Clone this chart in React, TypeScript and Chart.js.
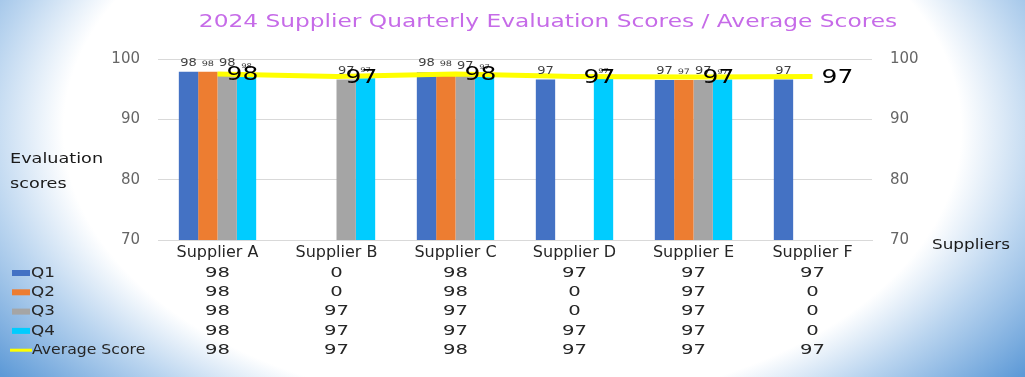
import React, { useEffect, useRef } from 'react';
import { Chart, registerables } from 'chart.js';

Chart.register(...registerables);

// ---------- data ----------
const categories = ['Supplier A', 'Supplier B', 'Supplier C', 'Supplier D', 'Supplier E', 'Supplier F'];
const seriesNames = ['Q1', 'Q2', 'Q3', 'Q4'];
const q1 = [97.9, 0, 97.8, 96.6, 96.5, 96.6];
const q2 = [97.9, 0, 97.8, 0, 96.5, 0];
const q3 = [97.8, 96.6, 97.4, 0, 96.5, 0];
const q4 = [97.5, 96.8, 97.3, 96.7, 96.6, 0];
const avgName = 'Average Score';
const avgScores = [97.5, 97.1, 97.5, 97.1, 97.0, 97.1];
const yTicks = [70, 80, 90, 100];
const titleText = '2024 Supplier Quarterly Evaluation Scores / Average Scores';
const yTitleLines = ['Evaluation', 'scores'];
const xTitleText = 'Suppliers';

// ---------- styles ----------
const COLORS = ['#4472C4', '#ED7D31', '#A5A5A5', '#00CCFF'];
const LINE_COLOR = '#FFFF00';
const FONT = '"DejaVu Sans", sans-serif';
const BAR_LABEL_SIZES = [10, 7.5, 10, 6.5];

function drawText(
  ctx: CanvasRenderingContext2D,
  text: string,
  x: number,
  y: number,
  size: number,
  color: string,
  align: 'left' | 'center' | 'right',
  sx: number,
  baseline: CanvasTextBaseline = 'middle'
) {
  ctx.save();
  ctx.font = `${size}px ${FONT}`;
  ctx.fillStyle = color;
  ctx.textBaseline = baseline;
  ctx.textAlign = 'left';
  const w = ctx.measureText(text).width * sx;
  const left = align === 'left' ? x : align === 'center' ? x - w / 2 : x - w;
  ctx.translate(left, y);
  ctx.scale(sx, 1);
  ctx.fillText(text, 0, 0);
  ctx.restore();
}

const bgPlugin = {
  id: 'bgGradient',
  beforeDraw(chart: any) {
    const { ctx, width, height } = chart;
    const cx = width / 2;
    const cy = 130;
    const rx = 680;
    const ry = 420;
    ctx.save();
    ctx.translate(cx, cy);
    ctx.scale(1, ry / rx);
    const g = ctx.createRadialGradient(0, 0, 0, 0, 0, rx);
    g.addColorStop(0, '#ffffff');
    g.addColorStop(0.66, '#ffffff');
    g.addColorStop(0.78, '#b9d4ef');
    g.addColorStop(0.95, '#5e9ad7');
    g.addColorStop(1, '#5794d4');
    ctx.fillStyle = g;
    ctx.fillRect(-cx, (-cy * rx) / ry, width, (height * rx) / ry);
    ctx.restore();
  },
};

const overlayPlugin = {
  id: 'overlay',
  afterDatasetsDraw(chart: any) {
    const ctx: CanvasRenderingContext2D = chart.ctx;
    // bar value labels
    for (let i = 0; i < seriesNames.length; i++) {
      const meta = chart.getDatasetMeta(i);
      const values = [q1, q2, q3, q4][i];
      meta.data.forEach((el: any, j: number) => {
        const v = values[j];
        if (!v) return;
        drawText(ctx, String(Math.round(v)), el.x, el.y - 6, BAR_LABEL_SIZES[i], '#404040', 'center', 1.3, 'alphabetic');
      });
    }
    // average labels
    const lineMeta = chart.getDatasetMeta(seriesNames.length);
    lineMeta.data.forEach((el: any, j: number) => {
      drawText(ctx, String(Math.round(avgScores[j])), el.x + 9, el.y + 1, 20, '#000000', 'left', 1.25);
    });
  },
  afterDraw(chart: any) {
    const ctx: CanvasRenderingContext2D = chart.ctx;
    const xScale = chart.scales.x;
    // title
    drawText(ctx, titleText, 548, 23, 17, '#c66be8', 'center', 1.37);
    // axis titles
    drawText(ctx, yTitleLines[0], 10, 159, 14, '#1a1a1a', 'left', 1.26);
    drawText(ctx, yTitleLines[1], 10, 184, 14, '#1a1a1a', 'left', 1.26);
    drawText(ctx, xTitleText, 932, 245, 14, '#1a1a1a', 'left', 1.2);
    // data table
    const rows = [q1, q2, q3, q4, avgScores];
    const names = [...seriesNames, avgName];
    rows.forEach((vals, r) => {
      const y = 273 + r * 19.3;
      if (r < seriesNames.length) {
        ctx.fillStyle = COLORS[r];
        ctx.fillRect(12, y - 3, 18, 6);
        drawText(ctx, names[r], 31, y, 14, '#262626', 'left', 1.2);
      } else {
        ctx.save();
        ctx.strokeStyle = LINE_COLOR;
        ctx.lineWidth = 3;
        ctx.beginPath();
        ctx.moveTo(10, y);
        ctx.lineTo(32, y);
        ctx.stroke();
        ctx.restore();
        drawText(ctx, names[r], 32, y, 14, '#262626', 'left', 1.12);
      }
      vals.forEach((v, j) => {
        drawText(ctx, String(Math.round(v)), xScale.getPixelForValue(j), y, 14, '#262626', 'center', 1.4);
      });
    });
  },
};

export default function App() {
  const canvasRef = useRef<HTMLCanvasElement | null>(null);

  useEffect(() => {
    document.body.style.margin = '0';
    const canvas = canvasRef.current;
    if (!canvas) return;
    const barSeries = [q1, q2, q3, q4];
    const chart = new Chart(canvas, {
      type: 'bar',
      data: {
        labels: categories,
        datasets: [
          ...barSeries.map((d, i) => ({
            type: 'bar' as const,
            label: seriesNames[i],
            data: d.map((v) => (v === 0 ? null : v)),
            backgroundColor: COLORS[i],
            yAxisID: 'y',
            order: 1,
            barPercentage: 1,
            categoryPercentage: 0.65,
          })),
          {
            type: 'line' as const,
            label: avgName,
            data: avgScores,
            borderColor: LINE_COLOR,
            backgroundColor: LINE_COLOR,
            borderWidth: 5,
            pointRadius: 0,
            tension: 0,
            yAxisID: 'y1',
            order: 0,
          },
        ],
      } as any,
      options: {
        responsive: true,
        maintainAspectRatio: false,
        animation: false,
        layout: { padding: { top: 59, left: 0, right: 0, bottom: 0 } },
        plugins: {
          legend: { display: false },
          title: { display: false },
          tooltip: { enabled: false },
        },
        scales: {
          x: {
            grid: { display: false, drawTicks: false },
            border: { display: true, color: '#d9d9d9' },
            ticks: {
              color: '#262626',
              font: { family: FONT, size: 16 },
              padding: 3,
              maxRotation: 0,
              autoSkip: false,
            },
            afterFit: (s: any) => {
              s.height = 137;
            },
          },
          y: {
            position: 'left',
            min: 70,
            max: 100,
            afterBuildTicks: (s: any) => {
              s.ticks = yTicks.map((v) => ({ value: v }));
            },
            ticks: { color: '#666666', font: { family: FONT, size: 15 }, padding: 18 },
            grid: { color: '#d9d9d9', drawTicks: false },
            border: { display: false },
            afterFit: (s: any) => {
              s.width = 158;
            },
          },
          y1: {
            position: 'right',
            min: 70,
            max: 100,
            afterBuildTicks: (s: any) => {
              s.ticks = yTicks.map((v) => ({ value: v }));
            },
            ticks: { color: '#666666', font: { family: FONT, size: 15 }, padding: 18 },
            grid: { display: false, drawTicks: false },
            border: { display: false },
            afterFit: (s: any) => {
              s.width = 153;
            },
          },
        },
      } as any,
      plugins: [bgPlugin, overlayPlugin],
    });
    return () => chart.destroy();
  }, []);

  return (
    <div style={{ position: 'fixed', left: 0, top: 0, width: '100vw', height: '100vh' }}>
      <canvas ref={canvasRef} />
    </div>
  );
}
